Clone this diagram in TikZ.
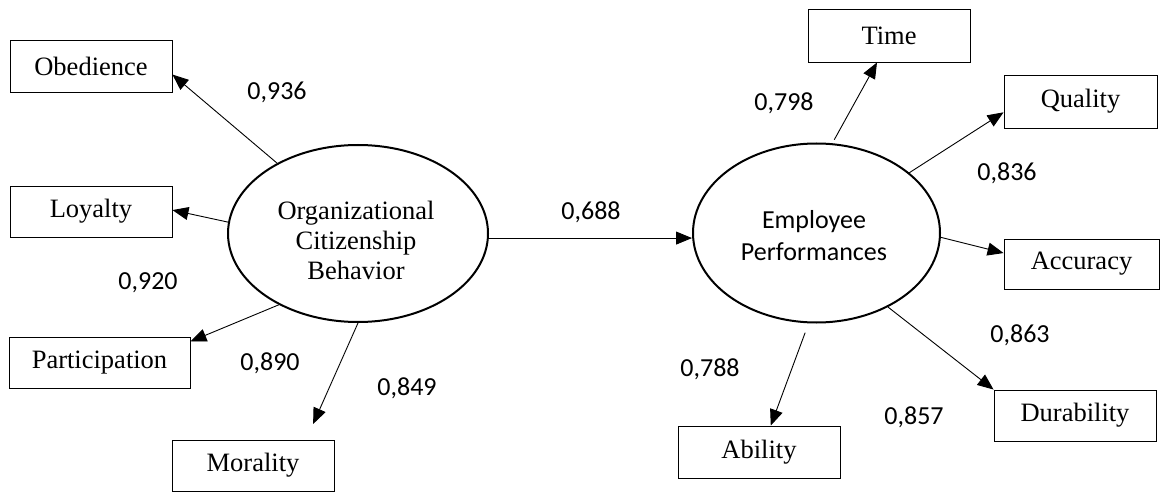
\documentclass[tikz,border=0pt]{standalone}
\usepackage{fontspec}
\setmainfont{Liberation Serif}
\newfontfamily\calfont{Carlito}
\usetikzlibrary{arrows.meta,shapes.geometric}
\begin{document}
\begin{tikzpicture}[x=1pt,y=-1pt,
  ind/.style={draw,line width=0.9pt,rectangle,inner sep=0pt,font=\fontsize{26.5}{30}\selectfont},
  lat/.style={draw,ellipse,line width=2pt,inner sep=0pt},
  arr/.style={line width=0.9pt,-{Triangle[length=16pt,width=13pt]}},
  coef/.style={font=\calfont\fontsize{26}{30}\selectfont,inner sep=0pt}]
\useasboundingbox (0,0) rectangle (1160,492);
% latent variables
\node[lat,minimum width=260pt,minimum height=177pt] (ocb) at (358,233.5) {};
\node[align=center,font=\fontsize{26.5}{30}\selectfont] (ocbt) at (356,240) {Organizational\\Citizenship\\Behavior};
\node[lat,minimum width=247pt,minimum height=179pt] (ep) at (816.5,233) {};
\node[align=center,font=\calfont\fontsize{26}{32}\selectfont] (ept) at (814,236) {Employee\\Performances};
% indicators
\node[ind,minimum width=162pt,minimum height=52pt] (obed) at (91,66) {Obedience};
\node[ind,minimum width=162pt,minimum height=51pt] (loyal) at (91,211.5) {Loyalty};
\node[ind,minimum width=181pt,minimum height=51pt] (partic) at (99.5,362.5) {Participation};
\node[ind,minimum width=162pt,minimum height=51pt] (moral) at (253,465.5) {Morality};
\node[ind,minimum width=162pt,minimum height=53pt] (time) at (889,35.5) {Time};
\node[ind,minimum width=153pt,minimum height=53pt] (qual) at (1080.5,101.5) {Quality};
\node[ind,minimum width=155pt,minimum height=50pt] (acc) at (1081.5,264) {Accuracy};
\node[ind,minimum width=162pt,minimum height=51pt] (dur) at (1075,415.5) {Durability};
\node[ind,minimum width=162pt,minimum height=52pt] (abil) at (759,452) {Ability};
% connectors
\draw[arr] (ocb.139) -- (obed.-6);
\draw[arr] (ocb.175) -- (loyal.1);
\draw[arr] (ocb.222) -- (partic.13);
\draw[arr,shorten >=17pt] (ocb.-90) -- (moral.26);
\draw[arr] (ocb.-2) -- (ocb.-2 -| ep.west);
\draw[arr,shorten <=4pt] (ep.80) -- (time.-114);
\draw[arr] (ep.33) -- (qual.188);
\draw[arr] (ep.-2) -- (acc.172);
\draw[arr] (ep.-46) -- (dur.north west);
\draw[arr,shorten <=10pt] (ep.-95) -- (abil.66);
% coefficients
\node[coef] (c1) at (277,92) {0,936};
\node[coef] (c2) at (148,283) {0,920};
\node[coef] (c3) at (270,363) {0,890};
\node[coef] (c4) at (407,388) {0,849};
\node[coef] (c5) at (591,212) {0,688};
\node[coef] (c6) at (784,103) {0,798};
\node[coef] (c7) at (1007,173) {0,836};
\node[coef] (c8) at (1020,335) {0,863};
\node[coef] (c9) at (914,417) {0,857};
\node[coef] (c10) at (710,369) {0,788};
\end{tikzpicture}
\end{document}
